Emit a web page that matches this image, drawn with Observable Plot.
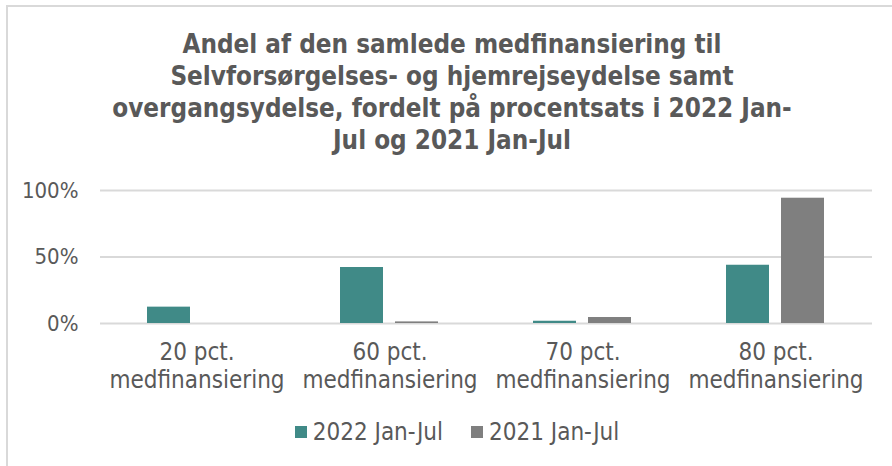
<!DOCTYPE html>
<html>
<head>
<meta charset="utf-8">
<script src="https://cdn.jsdelivr.net/npm/d3@7"></script>
<script src="https://cdn.jsdelivr.net/npm/@observablehq/plot@0.6"></script>
<style>
  html, body { margin: 0; padding: 0; background: #fff; }
  body { width: 892px; height: 466px; position: relative; overflow: hidden;
         font-family: "DejaVu Sans Condensed", "DejaVu Sans", sans-serif; color: #595959; }
  #frame { position: absolute; left: 6px; top: 5px; width: 900px; height: 470px;
           border-top: 2px solid #d9d9d9; border-left: 2px solid #d9d9d9; }
  #chart { position: absolute; left: 0; top: 0; width: 892px; }
  #title { box-sizing: border-box; padding-top: 28px; padding-left: 12px; height: 154px;
           text-align: center; font-weight: bold; font-size: 25.8px; line-height: 32px; color: #595959; }
  #legend { margin-top: 19px; display: flex; justify-content: center; padding-left: 22px;
            font-size: 24px; line-height: 26px; color: #595959; }
  .item { display: flex; align-items: center; margin: 0 14px; }
  .sw { width: 12px; height: 12px; margin-right: 6px; }
  svg { display: block; }
</style>
</head>
<body>
<div id="frame"></div>
<div id="chart">
  <div id="title"></div>
  <div id="plot"></div>
  <div id="legend"></div>
</div>
<script>
const titleLines = [
  "Andel af den samlede medfinansiering til",
  "Selvforsørgelses- og hjemrejseydelse samt",
  "overgangsydelse, fordelt på procentsats i 2022 Jan-",
  "Jul og 2021 Jan-Jul"
];
const categories = ["20 pct. medfinansiering", "60 pct. medfinansiering", "70 pct. medfinansiering", "80 pct. medfinansiering"];
const series = ["2022 Jan-Jul", "2021 Jan-Jul"];
const values2022 = [0.123, 0.421, 0.017, 0.438];
const values2021 = [0.0, 0.012, 0.045, 0.942];
const colors = ["#408a87", "#7f7f7f"];
const yTicks = [0, 0.5, 1];

const data = [];
categories.forEach((c, i) => {
  data.push({cat: c, series: series[0], value: values2022[i]});
  data.push({cat: c, series: series[1], value: values2021[i]});
});

document.getElementById("title").innerHTML = titleLines.join("<br>");

const font = '"DejaVu Sans Condensed", "DejaVu Sans", sans-serif';
const chart = Plot.plot({
  width: 892,
  height: 246,
  marginLeft: 99,
  marginRight: 19,
  marginTop: 36,
  marginBottom: 77,
  style: {fontFamily: font, fontSize: "24px", color: "#595959", background: "transparent"},
  fx: {domain: categories, padding: 0, label: null, axis: null},
  x: {domain: series, paddingInner: 0.21, paddingOuter: 0.85, axis: null},
  y: {domain: [0, 1], label: null, axis: null},
  color: {domain: series, range: colors},
  marks: [
    Plot.gridY(yTicks, {stroke: "#d9d9d9", strokeOpacity: 1, strokeWidth: 2}),
    Plot.barY(data, {fx: "cat", x: "series", y: "value", fill: "series"}),
    Plot.axisY(yTicks, {anchor: "left", tickSize: 0, tickPadding: 22, fontSize: 22, tickFormat: d3.format(".0%"), label: null, fill: "#595959"}),
    Plot.axisFx({anchor: "bottom", tickSize: 0, tickPadding: 17, label: null, lineHeight: 1.15, fill: "#595959",
                 tickFormat: d => d.replace(" medfinansiering", "\nmedfinansiering")})
  ]
});
document.getElementById("plot").appendChild(chart);

const legend = document.getElementById("legend");
series.forEach((s, i) => {
  const item = document.createElement("div");
  item.className = "item";
  const sw = document.createElement("div");
  sw.className = "sw";
  sw.style.background = colors[i];
  const lab = document.createElement("span");
  lab.textContent = s;
  item.appendChild(sw);
  item.appendChild(lab);
  legend.appendChild(item);
});
</script>
</body>
</html>
